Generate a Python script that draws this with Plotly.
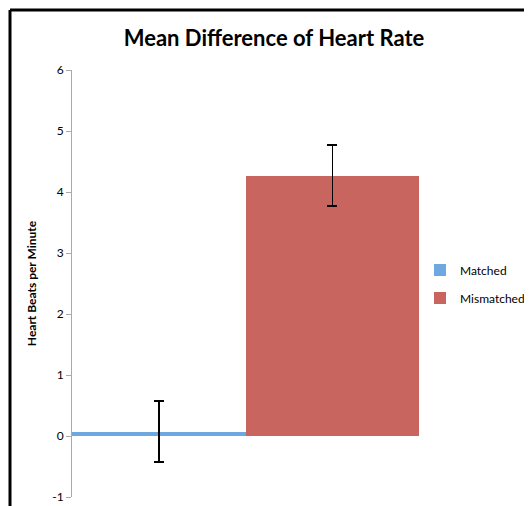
import plotly.graph_objects as go

categories = ["Matched", "Mismatched"]
values = [0.07, 4.27]
errors = [0.5, 0.5]
colors = ["#6fa8e0", "#c9655f"]
yticks = [-1, 0, 1, 2, 3, 4, 5, 6]

fig = go.Figure()
for name, v, e, c in zip(categories, values, errors, colors):
    fig.add_trace(go.Bar(
        x=[""], y=[v], name=name, legendgroup=name,
        marker=dict(color=c, line=dict(width=0)),
        error_y=dict(type="data", array=[e], visible=True, color="black", thickness=1.5, width=5),
    ))

font = "Lato, 'Open Sans', sans-serif"
W, H = 524, 498
L, R, T, B = 64, 113, 62, 9
fig.update_layout(
    width=W, height=H,
    margin=dict(l=L, r=R, t=T, b=B, autoexpand=False),
    paper_bgcolor="white", plot_bgcolor="white",
    barmode="group", bargap=0, bargroupgap=0,
    font=dict(family=font, color="black"),
    title=dict(text="<b>Mean Difference of Heart Rate</b>", x=(274 - 8) / W, xanchor="center",
               y=1 - 30 / H, yanchor="middle", font=dict(size=22, family=font, color="black")),
    showlegend=True,
    legend=dict(xref="container", yref="container", x=(420 - 8) / W, y=1 - (284 - 8) / H,
                xanchor="left", yanchor="middle", font=dict(size=12, family=font),
                itemwidth=30, tracegroupgap=9, bgcolor="rgba(0,0,0,0)"),
    xaxis=dict(visible=False),
    yaxis=dict(range=[-1, 6], tickvals=yticks, ticktext=[str(t) for t in yticks],
               showgrid=False, zeroline=False, showline=True, linecolor="#aaaaaa", linewidth=1,
               ticks="outside", ticklen=5, tickcolor="#aaaaaa",
               tickfont=dict(size=12, family=font, color="black"),
               title=dict(text="<b>Heart Beats per Minute</b>", font=dict(size=12, family=font), standoff=12)),
)

# frame lines (image is cropped: only left and top edges visible)
pw = W - L - R
ph = H - T - B
x_left = (2 - L) / pw
y_top = (ph + T - 2) / ph
fig.add_shape(type="line", xref="paper", yref="paper", x0=x_left, x1=1.5, y0=y_top, y1=y_top,
              line=dict(color="black", width=3))
fig.add_shape(type="line", xref="paper", yref="paper", x0=x_left, x1=x_left, y0=-0.2, y1=y_top,
              line=dict(color="black", width=3))

fig.write_html("out.html")
